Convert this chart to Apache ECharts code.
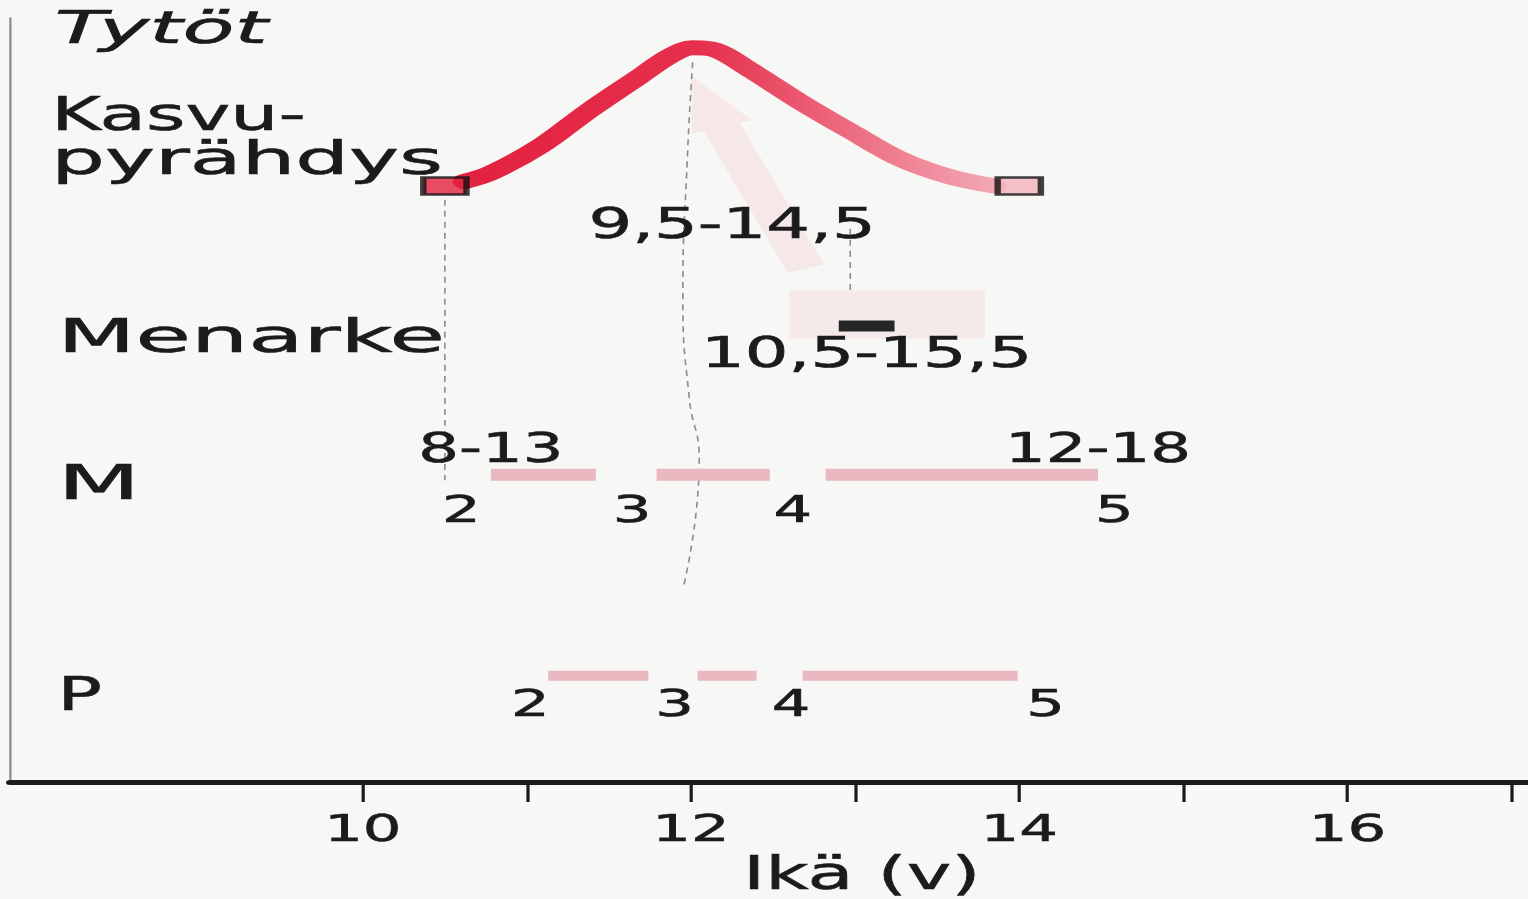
<!DOCTYPE html>
<html><head><meta charset="utf-8">
<script src="https://cdn.jsdelivr.net/npm/echarts@6/dist/echarts.min.js"></script>
<style>
html,body{margin:0;padding:0;background:#f7f7f5;overflow:hidden;}
#chart{width:955px;height:899px;transform:scaleX(1.6);transform-origin:0 0;}
</style></head><body><div id="chart"></div>
<script>
// ---------- data ----------
const xTickValues = [10, 11, 12, 13, 14, 15, 16, 17];
const xTickLabels = [10, 12, 14, 16];
const axisName = 'Ikä (v)';
const titleText = 'Tytöt';
const rowNames = ['Kasvu-', 'pyrähdys', 'Menarke', 'M', 'P'];

const growthCurveX = [10.62, 10.78, 11.08, 11.38, 11.69, 11.87, 12.01, 12.15, 12.36, 12.66, 12.97, 13.27, 13.58, 13.85];
const growthCurveY = [7.86, 7.97, 8.32, 8.79, 9.24, 9.50, 9.61, 9.58, 9.32, 8.91, 8.52, 8.16, 7.92, 7.80];
const growthEnds = [10.5, 14.0];
const growthRange = '9,5-14,5';

const menarcheBar = [12.9, 13.24];
const menarcheRange = '10,5-15,5';

const mStageStart = [10.78, 11.79, 12.82];
const mStageEnd = [11.42, 12.48, 14.48];
const mStageNumbers = ['2', '3', '4', '5'];
const mStageNumberX = [10.60, 11.64, 12.62, 14.58];
const mRanges = ['8-13', '12-18'];

const pStageStart = [11.13, 12.04, 12.68];
const pStageEnd = [11.74, 12.40, 13.99];
const pStageNumbers = ['2', '3', '4', '5'];
const pStageNumberX = [11.02, 11.90, 12.61, 14.16];

// faint guide lines
const guideLeftX = [10.5, 10.5];
const guideLeftY = [7.62, 3.95];
const guidePeakX = [12.01, 11.98, 11.95, 11.99, 12.05, 11.95];
const guidePeakY = [9.42, 8.29, 6.33, 5.01, 4.23, 2.52];
const guideMidX = [12.97, 12.97];
const guideMidY = [7.24, 6.39];

// faint printed shapes (pale pink arrow and box)
const ghostArrowX = [12.70, 12.0];
const ghostArrowY = [6.72, 9.25];
const ghostBoxX = [12.60, 13.79];
const ghostBoxY = [5.80, 6.43];

// ---------- layout (row positions on the hidden y scale) ----------
const ROW = { growth: 7.8, menarche: 5.97, M: 4.02, P: 1.39 };
const FONT = 'DejaVu Sans';
const INK = '#1b1b1b';

const zip = (a, b) => a.map((v, i) => [v, b[i]]);

const annotations = [
  { x: (growthEnds[0] + growthEnds[1]) / 2, y: ROW.growth, dy: 37, text: growthRange, size: 43 },
  { x: (menarcheBar[0] + menarcheBar[1]) / 2, y: ROW.menarche, dy: 26, text: menarcheRange, size: 43 },
  { x: mStageStart[0], y: ROW.M, dy: -27, text: mRanges[0], size: 40 },
  { x: mStageEnd[mStageEnd.length - 1], y: ROW.M, dy: -27, text: mRanges[1], size: 40 }
];
mStageNumbers.forEach((t, i) => annotations.push({ x: mStageNumberX[i], y: ROW.M, dy: 34, text: t, size: 38 }));
pStageNumbers.forEach((t, i) => annotations.push({ x: pStageNumberX[i], y: ROW.P, dy: 27, text: t, size: 38 }));

const stageBars = [];
mStageStart.forEach((s, i) => stageBars.push({ s, e: mStageEnd[i], y: ROW.M, h: 12 }));
pStageStart.forEach((s, i) => stageBars.push({ s, e: pStageEnd[i], y: ROW.P, h: 10 }));

const guideStyle = { color: '#8a8a8a', width: 1, type: [6, 5] };
const heading = (text, x, y, size, sx, italic) => ({
  type: 'text', x, y, scaleX: sx,
  style: { text, font: (italic ? 'italic ' : '') + size + 'px "DejaVu Sans"', fill: INK, stroke: INK, lineWidth: 0.6, verticalAlign: 'middle' }
});

const chart = echarts.init(document.getElementById('chart'), null, { renderer: 'svg' });
chart.setOption({
  backgroundColor: '#f7f7f5',
  animation: false,
  grid: { left: 6.25, right: 0, top: 18, bottom: 117, containLabel: false, outerBoundsMode: 'none' },
  xAxis: {
    type: 'value', min: 7.85, max: 17.1,
    axisLine: { lineStyle: { color: '#1a1a1a', width: 5 } },
    axisTick: { length: 20, customValues: xTickValues, lineStyle: { color: '#1a1a1a', width: 2 } },
    axisLabel: {
      margin: 27, fontSize: 38, fontFamily: FONT, color: INK, customValues: xTickLabels,
      textBorderColor: INK, textBorderWidth: 0.6,
      formatter: v => String(v)
    },
    splitLine: { show: false },
    name: axisName, nameLocation: 'middle', nameGap: 67, nameMoveOverlap: false,
    nameTextStyle: { fontSize: 47, lineHeight: 48, fontFamily: FONT, color: INK, textBorderColor: INK, textBorderWidth: 0.6, padding: [0, 0, 0, 116] }
  },
  yAxis: {
    type: 'value', min: 0, max: 10,
    axisLine: { show: true, lineStyle: { color: '#8a8a8a', width: 1.4 } },
    axisTick: { show: false }, axisLabel: { show: false }, splitLine: { show: false }
  },
  graphic: [
    heading(titleText, 34, 27, 45, 1.18, true),
    heading(rowNames[0], 32, 114, 46, 1.03),
    heading(rowNames[1], 32, 158, 46, 1.15),
    heading(rowNames[2], 36, 336, 47, 1.2),
    heading(rowNames[3], 36, 483, 48, 1.25),
    heading(rowNames[4], 36, 694, 46, 1.0)
  ],
  series: [
    { // pale box + arrow
      type: 'custom', z: 1, silent: true,
      data: [[ghostBoxX[0], ghostBoxY[0]]],
      renderItem: (params, api) => {
        const b0 = api.coord([ghostBoxX[0], ghostBoxY[1]]);
        const b1 = api.coord([ghostBoxX[1], ghostBoxY[0]]);
        const t = api.coord([ghostArrowX[0], ghostArrowY[0]]);
        const h = api.coord([ghostArrowX[1], ghostArrowY[1]]);
        const dx = h[0] - t[0], dy = h[1] - t[1], L = Math.hypot(dx, dy);
        const ux = dx / L, uy = dy / L, nx = -uy, ny = ux;
        const sw = 12, hw = 20, hl = 55;
        const bx = h[0] - ux * hl, by = h[1] - uy * hl;
        const pts = [
          [t[0] + nx * sw, t[1] + ny * sw], [bx + nx * sw, by + ny * sw], [bx + nx * hw, by + ny * hw],
          [h[0], h[1]], [bx - nx * hw, by - ny * hw], [bx - nx * sw, by - ny * sw], [t[0] - nx * sw, t[1] - ny * sw]
        ];
        return { type: 'group', children: [
          { type: 'rect', shape: { x: b0[0], y: b0[1], width: b1[0] - b0[0], height: b1[1] - b0[1] }, style: { fill: 'rgba(244,170,182,0.18)' } },
          { type: 'polygon', shape: { points: pts }, style: { fill: 'rgba(244,170,182,0.2)' } }
        ] };
      }
    },
    { type: 'line', z: 2, silent: true, symbol: 'none', smooth: true, data: zip(guideLeftX, guideLeftY), lineStyle: guideStyle },
    { type: 'line', z: 2, silent: true, symbol: 'none', smooth: true, data: zip(guidePeakX, guidePeakY), lineStyle: guideStyle },
    { type: 'line', z: 2, silent: true, symbol: 'none', smooth: true, data: zip(guideMidX, guideMidY), lineStyle: guideStyle },
    { // growth spurt curve
      type: 'line', z: 3, symbol: 'none', smooth: 0.35,
      data: zip(growthCurveX, growthCurveY),
      lineStyle: {
        width: 15, cap: 'round',
        color: { type: 'linear', x: 0, y: 0, x2: 1, y2: 0, colorStops: [
          { offset: 0, color: '#e2213f' }, { offset: 0.45, color: '#e6304d' }, { offset: 1, color: '#f3a8b4' }
        ] }
      }
    },
    { // end squares
      type: 'scatter', z: 4, symbol: 'rect', symbolSize: [27, 17],
      data: growthEnds.map((x, i) => ({ value: [x, ROW.growth], itemStyle: { color: i === 0 ? '#e2213f' : '#f4b3bd', borderColor: '#111', borderWidth: 3.2 } }))
    },
    { // menarche bar
      type: 'custom', z: 4,
      data: [[menarcheBar[0], menarcheBar[1], ROW.menarche]],
      renderItem: (params, api) => {
        const a = api.coord([api.value(0), api.value(2)]);
        const b = api.coord([api.value(1), api.value(2)]);
        return { type: 'rect', shape: { x: a[0], y: a[1] - 5.5, width: b[0] - a[0], height: 11 }, style: { fill: '#262626' } };
      }
    },
    { // pubertal stage bars
      type: 'custom', z: 4,
      data: stageBars.map(d => [d.s, d.e, d.y]),
      renderItem: (params, api) => {
        const d = stageBars[params.dataIndex];
        const a = api.coord([d.s, d.y]);
        const b = api.coord([d.e, d.y]);
        return { type: 'rect', shape: { x: a[0], y: a[1] - d.h / 2, width: b[0] - a[0], height: d.h }, style: { fill: '#e9b8c0' } };
      }
    },
    { // text annotations
      type: 'custom', z: 5,
      data: annotations.map(a => [a.x, a.y]),
      renderItem: (params, api) => {
        const a = annotations[params.dataIndex];
        const p = api.coord([a.x, a.y]);
        return { type: 'text', x: p[0], y: p[1] + a.dy, style: { text: a.text, fontSize: a.size, fontFamily: FONT, fill: INK, stroke: INK, lineWidth: 0.6, align: 'center', verticalAlign: 'middle' } };
      }
    }
  ]
});
</script></body></html>
